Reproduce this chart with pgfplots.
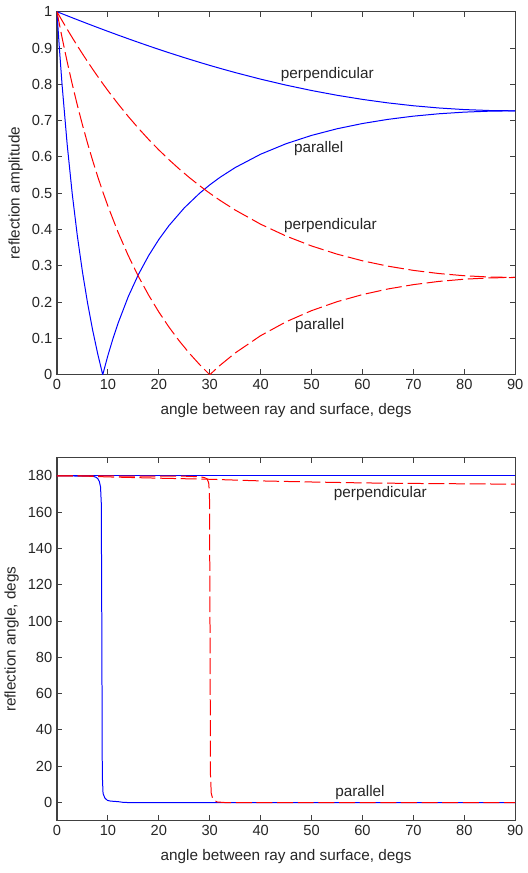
\documentclass[border=0pt]{standalone}
\usepackage{fontspec}
\setmainfont{Liberation Sans}
\usepackage{pgfplots}
\pgfplotsset{compat=1.18}

\definecolor{mblue}{RGB}{0,0,255}
\definecolor{mred}{RGB}{255,0,0}

\tikzset{lbl/.style={font=\fontsize{11.5}{13}\selectfont, text=black!85}}

\pgfplotsset{
  mstyle/.style={
    scale only axis,
    width=344.25pt, height=272.7pt,
    xmin=0, xmax=90,
    xtick={0,10,20,30,40,50,60,70,80,90},
    axis line style={black!75, line width=0.8pt},
    major tick style={black!75, line width=0.7pt},
    major tick length=4pt,
    tick align=inside,
    ticklabel style={font=\fontsize{11}{13}\selectfont, text=black!85},
    label style={font=\fontsize{11.5}{13}\selectfont, text=black!85},
    xlabel style={yshift=-3.5pt},
    /pgf/number format/assume math mode=true,
    xlabel={angle between ray and surface, degs},
    clip=true,
  },
  bl/.style={mblue, line width=0.75pt},
  rd/.style={mred, line width=0.75pt, dash pattern=on 12pt off 3.5pt},
}

\begin{document}
\begin{tikzpicture}
% amplitudes
\begin{axis}[mstyle, name=top, at={(0pt,0pt)}, anchor=north west,
  ymin=0, ymax=1,
  ytick={0,0.1,0.2,0.3,0.4,0.5,0.6,0.7,0.8,0.9,1},
  ylabel={reflection amplitude}]
\addplot[bl] coordinates {
(0,1)(0.5,0.99721)(1,0.99443)(2,0.98889)(3,0.98338)(4,0.97791)(5,0.97247)(6,0.96708)
(7,0.96173)(8,0.95641)(9,0.95114)(10,0.94591)(12,0.93560)(14,0.92547)(16,0.91553)
(18,0.90581)(20,0.89630)(22,0.88701)(25,0.87350)(28,0.86053)(30,0.85218)(32,0.84408)
(35,0.83240)(40,0.81424)(45,0.79774)(50,0.78293)(55,0.76983)(60,0.75846)(65,0.74883)
(70,0.74095)(75,0.73482)(80,0.73045)(85,0.72782)(90,0.72695)};
\addplot[bl] coordinates {
(0,1)(0.25,0.94563)(0.5,0.89413)(1,0.79891)(2,0.63462)(3,0.49790)(4,0.38239)(5,0.28354)
(6,0.19802)(7,0.12332)(8,0.05753)(8.985,0)(10,0.05294)(11,0.09974)(12,0.14199)
(14,0.21519)(16,0.27635)(18,0.32815)(20,0.37253)(22,0.41092)(25,0.45957)(28,0.49982)
(30,0.52294)(32,0.54359)(35,0.57068)(40,0.60749)(45,0.63639)(50,0.65929)(55,0.67754)
(60,0.69204)(65,0.70348)(70,0.71230)(75,0.71887)(80,0.72341)(85,0.72607)(90,0.72695)};
\addplot[rd] coordinates {
(0,1)(1,0.97562)(2,0.95185)(3,0.92867)(4,0.90610)(5,0.88411)(6,0.86270)(7,0.84187)
(8,0.82160)(9,0.80189)(10,0.78273)(12,0.74604)(14,0.71143)(16,0.67884)(18,0.64816)
(20,0.61934)(22,0.59229)(24,0.56691)(26,0.54312)(28,0.52084)(30,0.5)(32,0.48051)
(35,0.45365)(40,0.41464)(45,0.38197)(50,0.35475)(55,0.33225)(60,0.31386)(65,0.29907)
(70,0.28747)(75,0.27876)(80,0.27271)(85,0.26913)(90,0.26795)};
\addplot[rd] coordinates {
(0,1)(0.5,0.96365)(1,0.92861)(2,0.86218)(3,0.80027)(4,0.74247)(5,0.68843)(6,0.63782)
(7,0.59037)(8,0.54582)(9,0.50395)(10,0.46454)(12,0.39241)(14,0.32816)(16,0.27071)
(18,0.21920)(20,0.17288)(22,0.13111)(24,0.09337)(26,0.05919)(28,0.02818)(30,0)
(32,0.02565)(35,0.05994)(40,0.10768)(45,0.14590)(50,0.17657)(55,0.20117)(60,0.22079)
(65,0.23626)(70,0.24820)(75,0.25707)(80,0.26318)(85,0.26677)(90,0.26795)};
\node[lbl] at (axis cs:53.1,0.828) {perpendicular};
\node[lbl] at (axis cs:51.4,0.624) {parallel};
\node[lbl] at (axis cs:53.7,0.41) {perpendicular};
\node[lbl] at (axis cs:51.6,0.136) {parallel};
\end{axis}

% phases
\begin{axis}[mstyle, at={(0pt,-335pt)}, anchor=north west,
  ymin=-10, ymax=190,
  ytick={0,20,40,60,80,100,120,140,160,180},
  ylabel={reflection angle, degs}]
\addplot[bl] coordinates {(0,180)(90,180)};
\addplot[bl] coordinates {
(0,180)(7,179.8)(7.6,179.3)(8.0,178.5)(8.3,177)(8.55,174)(8.7,165)(8.8,100)
(8.9,15)(9.05,5)(9.4,2.5)(9.9,1.2)(10.5,0.8)(12,0.5)(13,0.1)(14,0)(90,0)};
\addplot[rd] coordinates {
(0,180)(5,179.9)(10,179.4)(20,178.7)(30,178.1)(40,177.2)(50,176.6)(60,176.1)
(70,175.8)(80,175.6)(90,175.4)};
\addplot[rd] coordinates {
(0,180)(25,179.8)(28,179.5)(29,179)(29.5,178.3)(29.8,176)(29.95,170)(30.05,100)
(30.15,15)(30.3,5)(30.6,2)(31,1)(31.5,0.3)(33,0)(90,0)};
\node[lbl] at (axis cs:63.5,170) {perpendicular};
\node[lbl] at (axis cs:59.5,5.6) {parallel};
\end{axis}
% page margins matching the reference
\path (0pt,8.8pt) (0pt,-647pt);
\end{tikzpicture}
\end{document}
